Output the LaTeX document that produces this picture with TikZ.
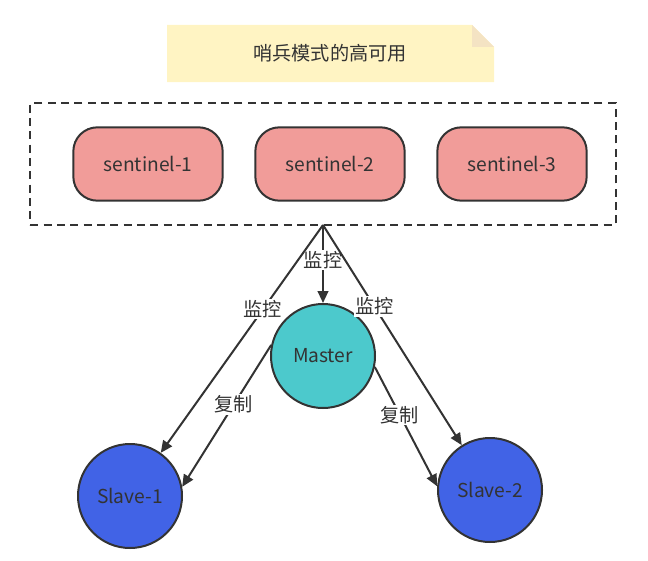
\documentclass[tikz,border=0pt]{standalone}
\usepackage{fontspec}
\setmainfont{Noto Sans CJK SC}
\usetikzlibrary{positioning,arrows.meta}
\definecolor{pillred}{HTML}{F19C99}
\definecolor{notey}{HTML}{FFF4C3}
\definecolor{mcyan}{HTML}{4CC9CC}
\definecolor{sblue}{HTML}{4163E6}
\definecolor{ink}{HTML}{333333}
\tikzset{
  pill/.style={draw=ink, line width=1.5pt, fill=pillred, rounded corners=18pt,
               minimum width=112pt, minimum height=55pt, font=\Large, text=ink},
  host/.style={circle, draw=ink, line width=1.5pt, minimum size=78pt, font=\Large, text=ink},
  line/.style={draw=ink, line width=1.5pt, -{Triangle[length=9pt,width=8pt]}},
  lbl/.style={fill=white, inner sep=1pt, font=\Large, text=ink}
}
\begin{document}
\begin{tikzpicture}[x=0.75pt,y=-0.75pt]
  \useasboundingbox (0,0) rectangle (648,560);
  % note
  \fill[notey] (167,25) -- (472,25) -- (494,47) -- (494,82) -- (167,82) -- cycle;
  \fill[notey!70!brown!60] (472,25) -- (494,47) -- (472,47) -- cycle;
  \node[font=\Large, text=ink] (note) at (330,53) {哨兵模式的高可用};
  % sentinel group
  \node[draw=ink, dash pattern=on 6pt off 4pt, line width=1.5pt, minimum width=439pt, minimum height=91pt] (group) at (323,164) {};
  \node[pill] (s1) at (148,164) {sentinel-1};
  \node[pill] (s2) at (330,164) {sentinel-2};
  \node[pill] (s3) at (512,164) {sentinel-3};
  % hosts
  \node[host, fill=mcyan] (master) at (323,356) {Master};
  \node[host, fill=sblue] (slave1) at (130,496) {Slave-1};
  \node[host, fill=sblue] (slave2) at (490,490) {Slave-2};
  \coordinate (hub) at (323,225);
  % monitoring
  \path[line] (hub) -- node[lbl, pos=0.45] {监控} (master);
  \path[line] (hub) -- node[lbl, pos=0.37] {监控} (slave1);
  \path[line] (hub) -- node[lbl, pos=0.37] {监控} (slave2);
  % replication
  \path[line] (master.168) -- node[lbl, pos=0.42] {复制} (slave1.10);
  \path[line] (master.-12) -- node[lbl, pos=0.4] {复制} (slave2.176);
\end{tikzpicture}
\end{document}
